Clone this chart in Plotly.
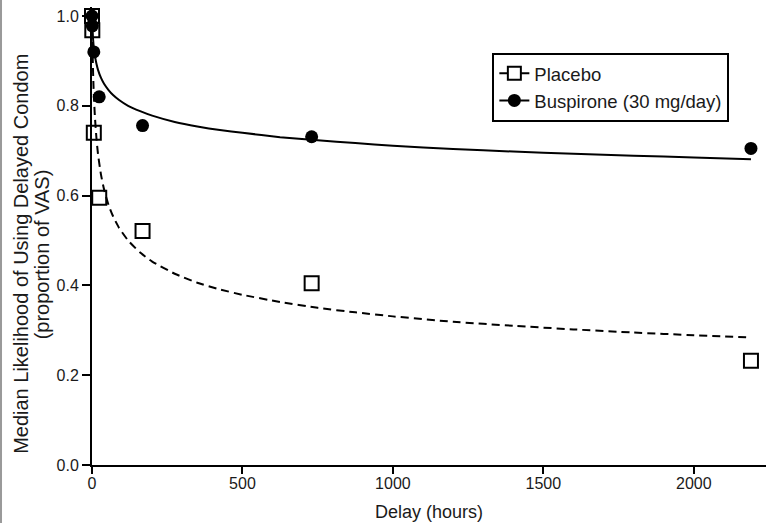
import plotly.graph_objects as go

# ---- data ----
delay_hours = [0, 1, 6, 24, 168, 730, 2190]
placebo = [1.0, 0.968, 0.74, 0.595, 0.521, 0.405, 0.232]
buspirone = [1.0, 0.978, 0.92, 0.82, 0.756, 0.731, 0.705]

# fitted curves
curve_x = [0, 1, 2, 3, 5, 7, 10, 15, 20, 30, 40, 55, 70, 90, 120, 160, 200,
           275, 350, 425, 500, 625, 750, 875, 1000, 1200, 1400, 1600, 1800, 2000, 2190]
placebo_fit = [1.0, 0.954, 0.918, 0.889, 0.844, 0.810, 0.772, 0.726, 0.692, 0.646,
               0.614, 0.579, 0.554, 0.528, 0.500, 0.473, 0.453, 0.426, 0.406, 0.391,
               0.379, 0.363, 0.350, 0.340, 0.331, 0.319, 0.310, 0.302, 0.295, 0.289, 0.284]
buspirone_fit = [1.0, 0.980, 0.965, 0.954, 0.937, 0.924, 0.910, 0.893, 0.880, 0.862,
                 0.849, 0.835, 0.824, 0.813, 0.800, 0.788, 0.778, 0.764, 0.754, 0.746,
                 0.740, 0.730, 0.723, 0.717, 0.711, 0.704, 0.698, 0.693, 0.689, 0.685, 0.681]

x_ticks = [0, 500, 1000, 1500, 2000]
y_ticks = [0.0, 0.2, 0.4, 0.6, 0.8, 1.0]

FONT = "Arial, Liberation Sans, sans-serif"
TXT = "#1a1a1a"

fig = go.Figure()

fig.add_trace(go.Scatter(x=curve_x, y=placebo_fit, mode="lines", showlegend=False,
                         line=dict(color="black", width=2, dash="8px,5px", shape="spline", smoothing=0.5),
                         hoverinfo="skip"))
fig.add_trace(go.Scatter(x=curve_x, y=buspirone_fit, mode="lines", showlegend=False,
                         line=dict(color="black", width=2, shape="spline", smoothing=0.5),
                         hoverinfo="skip"))
fig.add_trace(go.Scatter(x=delay_hours, y=placebo, mode="markers", showlegend=False,
                         marker=dict(symbol="square-open", size=14, color="black",
                                     line=dict(width=2, color="black")),
                         cliponaxis=False))
fig.add_trace(go.Scatter(x=delay_hours, y=buspirone, mode="markers", showlegend=False,
                         marker=dict(symbol="circle", size=13, color="black"),
                         cliponaxis=False))

# legend entries
fig.add_trace(go.Scatter(x=[None], y=[None], mode="lines+markers", name="Placebo",
                         line=dict(color="black", width=2),
                         marker=dict(symbol="square", size=13, color="white",
                                     line=dict(width=2, color="black"))))
fig.add_trace(go.Scatter(x=[None], y=[None], mode="lines+markers", name="Buspirone (30 mg/day)",
                         line=dict(color="black", width=2),
                         marker=dict(symbol="circle", size=13, color="black")))

fig.update_layout(
    width=766, height=523,
    margin=dict(l=92, r=0, t=7, b=58),
    paper_bgcolor="white", plot_bgcolor="white",
    font=dict(family=FONT, size=16, color=TXT),
    showlegend=True,
    legend=dict(x=0.594, y=0.9, xanchor="left", yanchor="top",
                bordercolor="black", borderwidth=2, bgcolor="white",
                font=dict(size=18.5, family=FONT, color=TXT),
                tracegroupgap=0, itemwidth=30),
    xaxis=dict(range=[0, 2240], tickvals=x_ticks, ticks="outside", ticklen=7, tickwidth=2,
               tickcolor="black", showline=True, linecolor="black", linewidth=2,
               showgrid=False, zeroline=False, tickfont=dict(size=16), ticklabelstandoff=-4),
    yaxis=dict(range=[0, 1.02], tickvals=y_ticks, tickformat=".1f", ticks="outside",
               ticklen=8, tickwidth=2, tickcolor="black", showline=True, linecolor="black",
               linewidth=2, showgrid=False, zeroline=False, tickfont=dict(size=16)),
    annotations=[
        dict(text="Median Likelihood of Using Delayed Condom",
             xref="paper", yref="paper", x=(21 - 92) / 674, y=0.461, xanchor="center", yanchor="middle",
             textangle=-90, showarrow=False, font=dict(size=20, family=FONT, color=TXT)),
        dict(text="(proportion of VAS)",
             xref="paper", yref="paper", x=(41.5 - 92) / 674, y=0.461, xanchor="center", yanchor="middle",
             textangle=-90, showarrow=False, font=dict(size=20, family=FONT, color=TXT)),
        dict(text="Delay (hours)", xref="paper", yref="paper", x=0.5, y=-0.1026,
             xanchor="center", yanchor="middle", showarrow=False,
             font=dict(size=18, family=FONT, color=TXT)),
    ],
    shapes=[dict(type="line", xref="paper", yref="paper", x0=-0.1350, x1=-0.1350, y0=-0.13, y1=1.02,
                 line=dict(color="#9a9a9a", width=2))],
)

fig.write_html("out.html")
